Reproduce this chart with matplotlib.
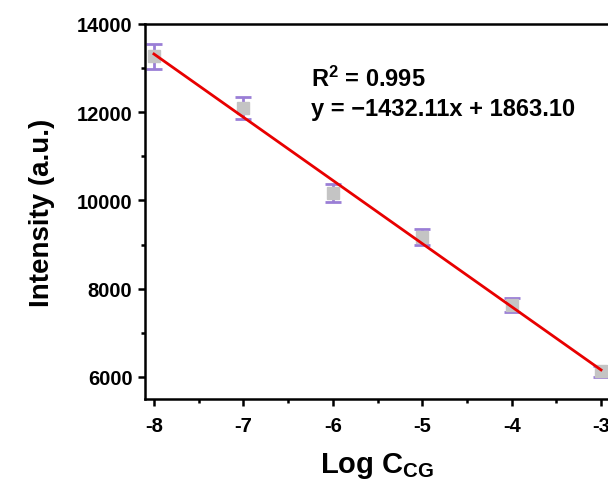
import numpy as np
import matplotlib
matplotlib.use("Agg")
import matplotlib.pyplot as plt

plt.rcParams['font.family'] = ['Liberation Sans', 'DejaVu Sans']
plt.rcParams['font.weight'] = 'bold'
plt.rcParams['axes.unicode_minus'] = False
plt.rcParams['mathtext.fontset'] = 'custom'
plt.rcParams['mathtext.rm'] = 'Liberation Sans:bold'
plt.rcParams['mathtext.it'] = 'Liberation Sans:bold'
plt.rcParams['mathtext.bf'] = 'Liberation Sans:bold'

# data
log_c = [-8, -7, -6, -5, -4, -3]
intensity = [13270, 12090, 10170, 9180, 7636, 6125]
intensity_err = [280, 250, 200, 180, 160, 125]

# linear fit shown on the chart
slope = -1432.11
intercept = 1863.10
r2 = 0.995

fig = plt.figure(figsize=(6.08, 4.81), dpi=100)
ax = fig.add_axes([145 / 608, 1 - 400 / 481, 465 / 608, 375 / 481])

fit_x = np.array([log_c[0], log_c[-1]])
ax.plot(fit_x, slope * fit_x + intercept, color='#e80000', lw=2.0, zorder=3)

ax.errorbar(log_c, intensity, yerr=intensity_err, fmt='s', ms=8.5,
            mfc='#c4c4c4', mec='#c4c4c4', ecolor='#9a7ed6', elinewidth=2.0,
            capsize=6, capthick=2.0, zorder=2)

ax.set_xlim(-8.1, -2.9)
ax.set_ylim(5500, 14000)
ax.set_xticks(log_c)
ax.set_xticks(np.arange(-7.5, -2.9, 1.0), minor=True)
ax.set_yticks([6000, 8000, 10000, 12000, 14000])
ax.set_yticks([7000, 9000, 11000, 13000], minor=True)

for s in ax.spines.values():
    s.set_linewidth(1.8)

ax.tick_params(which='major', direction='out', length=5, width=1.8, labelsize=14.5)
ax.tick_params(which='minor', direction='out', length=3, width=1.8)
ax.tick_params(axis='x', which='major', pad=7)
ax.tick_params(axis='y', which='major', pad=4)
ax.tick_params(top=False, right=False, which='both')

ax.set_xlabel('Log C$_{\\mathregular{CG}}$', fontsize=21, fontweight='bold', labelpad=11)
ax.set_ylabel('Intensity (a.u.)', fontsize=20, fontweight='bold', labelpad=16)

ax.text(0.357, 0.856, 'R$^{2}$ = %.3f' % r2, transform=ax.transAxes,
        fontsize=17, fontweight='bold', va='center')
ax.text(0.357, 0.775, 'y = \u2212%.2fx + %.2f' % (-slope, intercept), transform=ax.transAxes,
        fontsize=17, fontweight='bold', va='center')

fig.savefig('out.png', dpi=100)
